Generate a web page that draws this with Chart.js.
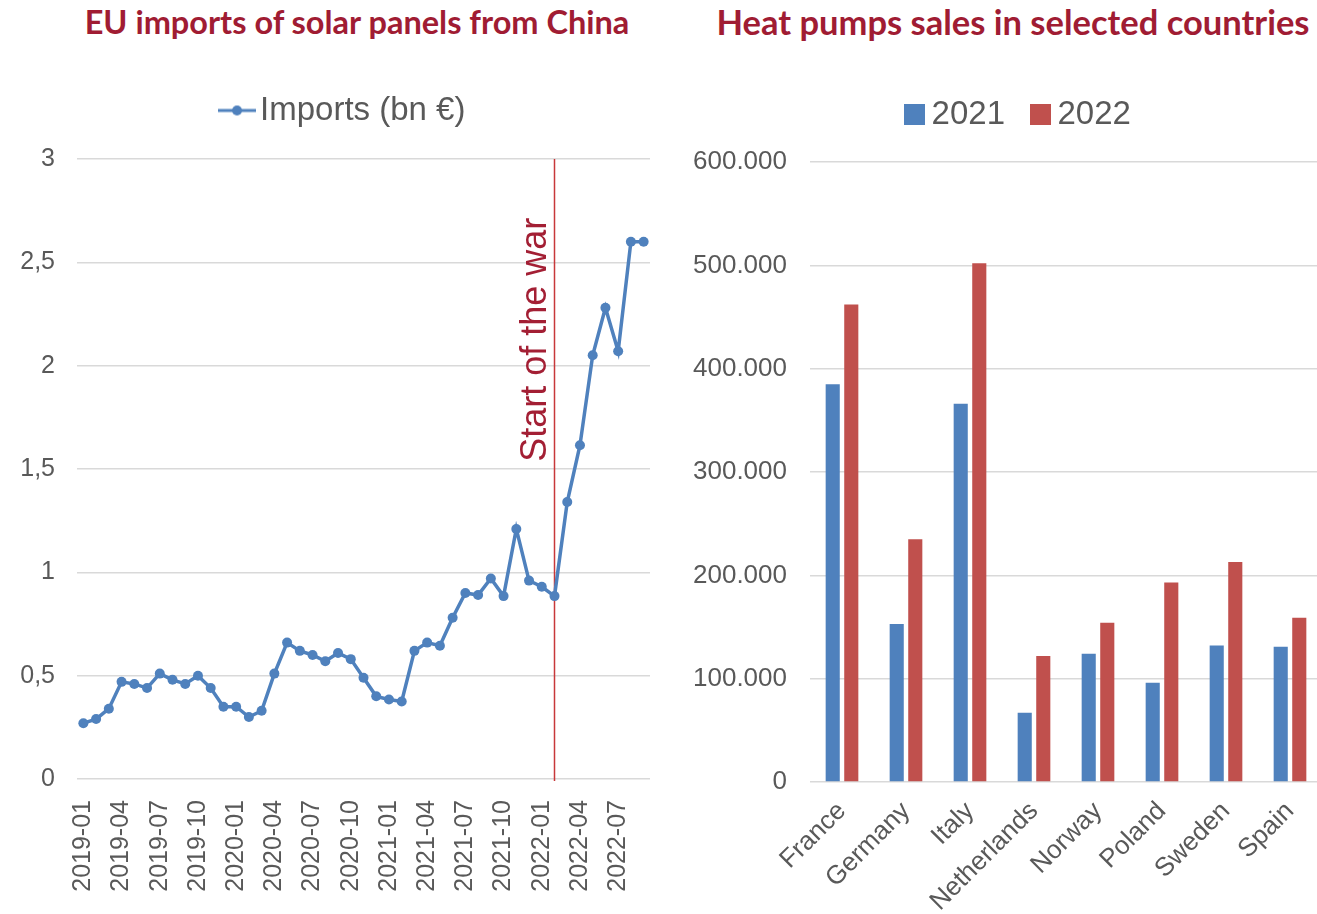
<!DOCTYPE html>
<html>
<head>
<meta charset="utf-8">
<title>Solar imports and heat pumps</title>
<script src="https://cdn.jsdelivr.net/npm/chart.js@4.4.0/dist/chart.umd.min.js"></script>
<style>
  html, body { margin: 0; padding: 0; background: #fff; overflow: hidden; }
  #page { position: relative; width: 1317px; height: 914px; overflow: hidden; }
  .title {
    position: absolute; top: 2px; transform: translateX(-50%);
    font-family: Lato, "Open Sans", sans-serif; font-weight: 700;
    line-height: 40px; color: #a01c33; white-space: nowrap;
  }
  .box { position: absolute; top: 0; }
</style>
</head>
<body>
<div id="page">
  <div class="title" style="left:357px;font-size:32.5px">EU imports of solar panels from China</div>
  <div class="title" style="left:1013px;font-size:34.5px">Heat pumps sales in selected countries</div>
  <div class="box" style="left:0"><canvas id="imports" width="684" height="914"></canvas></div>
  <div class="box" style="left:680px"><canvas id="heatpumps" width="654" height="914"></canvas></div>
</div>
<script>
'use strict';

// monthly EU imports of solar panels from China, bn €
const months = [
  '2019-01', '2019-02', '2019-03', '2019-04', '2019-05', '2019-06', '2019-07', '2019-08', '2019-09',
  '2019-10', '2019-11', '2019-12', '2020-01', '2020-02', '2020-03', '2020-04', '2020-05', '2020-06',
  '2020-07', '2020-08', '2020-09', '2020-10', '2020-11', '2020-12', '2021-01', '2021-02', '2021-03',
  '2021-04', '2021-05', '2021-06', '2021-07', '2021-08', '2021-09', '2021-10', '2021-11', '2021-12',
  '2022-01', '2022-02', '2022-03', '2022-04', '2022-05', '2022-06', '2022-07', '2022-08', '2022-09'
];
const imports = [
  0.27, 0.29, 0.34, 0.47, 0.46, 0.44, 0.51, 0.48, 0.46,
  0.50, 0.44, 0.35, 0.35, 0.30, 0.33, 0.51, 0.66, 0.62,
  0.60, 0.57, 0.61, 0.58, 0.49, 0.40, 0.385, 0.375, 0.62,
  0.66, 0.645, 0.78, 0.90, 0.89, 0.97, 0.885, 1.21, 0.96,
  0.93, 0.885, 1.34, 1.615, 2.05, 2.28, 2.07, 2.60, 2.60
];
const importsLabel = 'Imports (bn €)';
const warMonth = '2022-02';
const warLabel = 'Start of the war';

// heat pump sales per country
const countries = ['France', 'Germany', 'Italy', 'Netherlands', 'Norway', 'Poland', 'Sweden', 'Spain'];
const sales2021 = [385000, 153000, 366000, 67000, 124000, 96000, 132000, 131000];
const sales2022 = [462000, 235000, 502000, 122000, 154000, 193000, 213000, 159000];
const years = ['2021', '2022'];

const BLUE = '#4f81bd';
const RED = '#c0504d';
const GREY = '#595959';
const GRID = '#d9d9d9';

Chart.defaults.font.family = '"Liberation Sans", Arial, sans-serif';
Chart.defaults.color = GREY;
Chart.defaults.animation = false;

// small canvases used as legend markers
function lineMarker(color) {
  const c = document.createElement('canvas');
  c.width = 38; c.height = 14;
  const g = c.getContext('2d');
  g.strokeStyle = color; g.lineWidth = 3;
  g.beginPath(); g.moveTo(0, 7); g.lineTo(38, 7); g.stroke();
  g.fillStyle = color;
  g.beginPath(); g.arc(19, 7, 5, 0, Math.PI * 2); g.fill();
  return c;
}
function squareMarker(color) {
  const c = document.createElement('canvas');
  c.width = 21; c.height = 21;
  const g = c.getContext('2d');
  g.fillStyle = color;
  g.fillRect(0, 0, 21, 21);
  return c;
}

// legend placement: extra room below it and a sideways nudge
const legendPlace = {
  id: 'legendPlace',
  beforeInit(chart, args, opts) {
    const fit = chart.legend.fit;
    chart.legend.fit = function () {
      fit.call(this);
      this.height += opts.gap || 0;
    };
  },
  afterLayout(chart, args, opts) {
    chart.legend.left += opts.shift || 0;
    chart.legend.right += opts.shift || 0;
  }
};

// vertical marker for the start of the war
const warLine = {
  id: 'warLine',
  beforeDatasetsDraw(chart) {
    const {ctx, chartArea, scales} = chart;
    const x = scales.x.getPixelForValue(months.indexOf(warMonth));
    ctx.save();
    ctx.strokeStyle = '#c8383a';
    ctx.lineWidth = 1.5;
    ctx.beginPath();
    ctx.moveTo(x, chartArea.top);
    ctx.lineTo(x, chartArea.bottom + 2);
    ctx.stroke();
    ctx.translate(x - 9, scales.y.getPixelForValue(1.535));
    ctx.rotate(-Math.PI / 2);
    ctx.fillStyle = '#a31f34';
    ctx.font = '36px "Liberation Sans", Arial, sans-serif';
    ctx.textAlign = 'left';
    ctx.textBaseline = 'alphabetic';
    ctx.fillText(warLabel, 0, 0);
    ctx.restore();
  }
};

// keep rotated tick labels from squeezing the plot sideways
const noSidePadding = s => {
  s.paddingLeft = 0;
  s.paddingRight = 0;
};

new Chart(document.getElementById('imports'), {
  type: 'line',
  data: {
    labels: months,
    datasets: [{
      label: importsLabel,
      data: imports,
      borderColor: BLUE,
      backgroundColor: BLUE,
      borderWidth: 3.5,
      pointRadius: 5,
      pointBorderWidth: 0,
      pointBackgroundColor: BLUE,
      tension: 0
    }]
  },
  options: {
    responsive: false,
    layout: { padding: { top: 84, right: 34, left: 0, bottom: 0 } },
    plugins: {
      legend: {
        labels: {
          font: { size: 33 },
          color: GREY,
          usePointStyle: true,
          pointStyle: lineMarker(BLUE),
          pointStyleWidth: 13,
          padding: 10
        }
      },
      legendPlace: { gap: 22, shift: 23 },
      tooltip: { enabled: false }
    },
    scales: {
      x: {
        offset: true,
        grid: { display: false },
        border: { display: false },
        ticks: {
          autoSkip: false,
          minRotation: 90,
          maxRotation: 90,
          padding: 13,
          font: { size: 25 },
          callback: (v, i) => (i % 3 === 0 ? months[i] : '')
        },
        afterFit: s => { s.height = 135; noSidePadding(s); }
      },
      y: {
        min: 0,
        max: 3,
        grid: { color: GRID, lineWidth: 1.5, drawTicks: false },
        border: { display: false },
        ticks: {
          stepSize: 0.5,
          padding: 22,
          font: { size: 25 },
          callback: v => String(v).replace('.', ',')
        },
        afterFit: s => { s.width = 77; }
      }
    }
  },
  plugins: [legendPlace, warLine]
});

new Chart(document.getElementById('heatpumps'), {
  type: 'bar',
  data: {
    labels: countries,
    datasets: [
      { label: years[0], data: sales2021, backgroundColor: BLUE, pointStyle: squareMarker(BLUE) },
      { label: years[1], data: sales2022, backgroundColor: RED, pointStyle: squareMarker(RED) }
    ]
  },
  options: {
    responsive: false,
    categoryPercentage: 0.58,
    barPercentage: 0.76,
    layout: { padding: { top: 64, right: 12, left: 0, bottom: 0 } },
    plugins: {
      legend: {
        labels: {
          font: { size: 33 },
          color: GREY,
          usePointStyle: true,
          pointStyleWidth: 2,
          padding: 34
        }
      },
      legendPlace: { gap: 21, shift: 21 },
      tooltip: { enabled: false }
    },
    scales: {
      x: {
        grid: { display: false },
        border: { display: false },
        ticks: {
          autoSkip: false,
          minRotation: 45,
          maxRotation: 45,
          padding: 6,
          font: { size: 26 }
        },
        afterFit: s => { s.height = 132; noSidePadding(s); }
      },
      y: {
        min: 0,
        max: 600000,
        grid: { color: GRID, lineWidth: 1.5, drawTicks: false },
        border: { display: false },
        ticks: {
          stepSize: 100000,
          padding: 23,
          font: { size: 26 },
          callback: v => String(v).replace(/\B(?=(\d{3})+(?!\d))/g, '.')
        },
        afterFit: s => { s.width = 130; }
      }
    }
  },
  plugins: [legendPlace]
});
</script>
</body>
</html>
